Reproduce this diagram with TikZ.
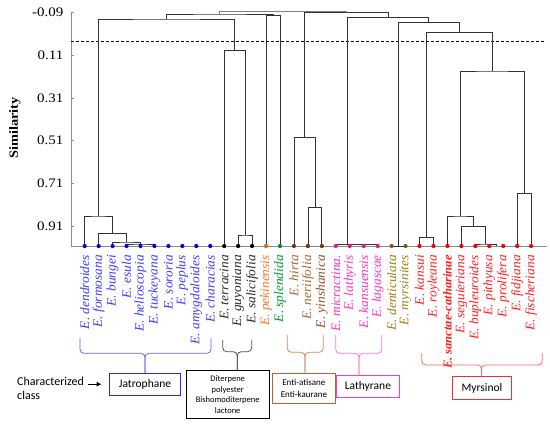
\documentclass[tikz,border=0pt]{standalone}
\usepackage{fontspec}
\setmainfont{Liberation Serif}
\newfontfamily\boxfont{Carlito}
\newfontfamily\labfont{Liberation Serif}[FakeStretch=1.03]
\newfontfamily\tickfont{Liberation Serif}[FakeStretch=1.15]
\usetikzlibrary{arrows.meta}
\definecolor{dBlue}{RGB}{0,0,230}
\definecolor{tBlue}{RGB}{60,60,255}
\definecolor{dBlack}{RGB}{0,0,0}
\definecolor{tBlack}{RGB}{40,40,40}
\definecolor{dOrange}{RGB}{230,100,20}
\definecolor{tOrange}{RGB}{255,120,30}
\definecolor{dGreen}{RGB}{0,140,40}
\definecolor{tGreen}{RGB}{0,160,50}
\definecolor{dBrown}{RGB}{110,50,20}
\definecolor{tBrown}{RGB}{175,100,50}
\definecolor{tBrownD}{RGB}{140,80,40}
\definecolor{dPink}{RGB}{230,20,150}
\definecolor{tPink}{RGB}{255,50,200}
\definecolor{dOlive}{RGB}{120,90,20}
\definecolor{tOlive}{RGB}{160,125,20}
\definecolor{dRed}{RGB}{240,0,0}
\definecolor{tRed}{RGB}{255,30,30}
\definecolor{bBlue}{RGB}{100,100,255}
\definecolor{bBlack}{RGB}{80,80,80}
\definecolor{bBrown}{RGB}{200,140,100}
\definecolor{bPink}{RGB}{255,120,210}
\definecolor{bRed}{RGB}{255,100,100}
\definecolor{xBlue}{RGB}{40,40,255}
\definecolor{xBrown}{RGB}{180,100,50}
\definecolor{xPink}{RGB}{255,60,200}
\definecolor{xRed}{RGB}{235,50,50}
\begin{document}
\begin{tikzpicture}[x=1pt,y=-1pt,
  link/.style={draw=black!80,line width=0.75pt},
  axisline/.style={draw=black!45,line width=0.6pt},
  leafdot/.style={circle,inner sep=0pt,minimum size=4.2pt,draw=none},
  leaflab/.style={rotate=90,anchor=east,inner sep=0pt,font=\labfont\fontsize{13}{15}\selectfont\itshape},
  ticklab/.style={anchor=east,inner sep=0pt,font=\tickfont\fontsize{13}{15}\selectfont},
  brc/.style={line width=0.8pt,rounded corners=4pt},
  classbox/.style={draw,line width=1pt,inner sep=0pt,align=center,font=\boxfont\fontsize{11.5}{14}\selectfont},
  smallbox/.style={classbox,font=\boxfont\fontsize{8.5}{10.5}\selectfont},
  lBlue/.style={text=tBlue},
  lBlack/.style={text=tBlack},
  lOrange/.style={text=tOrange},
  lGreen/.style={text=tGreen},
  lBrown/.style={text=tBrown},
  lBrownD/.style={text=tBrownD},
  lPink/.style={text=tPink},
  lOlive/.style={text=tOlive},
  lRed/.style={text=tRed},
  lRedB/.style={text=tRed,font=\labfont\fontsize{12.2}{15}\selectfont\bfseries\itshape}
]
\useasboundingbox (0,0) rectangle (550,424);

% axes
\draw[axisline] (71,12) -- (71,246) -- (547,246);
\foreach \v/\yy in {-0.09/12.2,0.11/55.0,0.31/97.8,0.51/140.6,0.71/183.4,0.91/226.2}{
  \draw[axisline] (71,\yy) -- (74,\yy);
  \node[ticklab] at (63.5,\yy) {\v};
}
\node[rotate=90,font=\tickfont\fontsize{12.5}{15}\selectfont\bfseries] (simlab) at (15,128) {Similarity};
\draw[dashed,dash pattern=on 3pt off 2pt,line width=0.8pt] (71,41.5) -- (546,41.5);

% leaf coordinates
\foreach \i in {0,...,32}{
  \pgfmathsetmacro\xx{84.7+13.95*\i}
  \coordinate (l\i) at (\xx,246);
}

% internal nodes
\coordinate (A) at (98.65,216);
\coordinate (B) at (112.6,233.7);
\coordinate (C) at (126.55,242);
\coordinate (D) at (140.5,244);
\coordinate (K) at (234.65,50.7);
\coordinate (K2) at (245.1,235);
\coordinate (N3) at (166.65,19);
\coordinate (N4) at (273.0,15.3);
\coordinate (N1) at (219.8,14);
\coordinate (Br) at (304.4,137.7);
\coordinate (Br2) at (314.9,207.3);
\coordinate (P) at (347.5,244.6);
\coordinate (O) at (398.6,246);
\coordinate (N5) at (388.3,17.3);
\coordinate (N6) at (428.8,22.7);
\coordinate (N7) at (459.1,32.3);
\coordinate (KR) at (426.5,237.7);
\coordinate (N8) at (492,71);
\coordinate (N9) at (460.2,216);
\coordinate (N10) at (524.1,193.3);
\coordinate (N11) at (473.3,226.7);
\coordinate (N12) at (485.75,244);
\coordinate (N13) at (496.2,246);
\coordinate (N2) at (346.35,12.7);
\coordinate (R) at (283.1,11.7);

% links
\draw[link] (l0) |- (A) -| (B);
\draw[link] (l1) |- (B) -| (C);
\draw[link] (l2) |- (C) -| (D);
\draw[link] (l3) |- (D) -| (l5);
\draw[link] (l10) |- (K) -| (K2);
\draw[link] (l11) |- (K2) -| (l12);
\draw[link] (A) |- (N3) -| (K);
\draw[link] (l13) |- (N4) -| (l14);
\draw[link] (N3) |- (N1) -| (N4);
\draw[link] (l16) |- (Br2) -| (l17);
\draw[link] (l15) |- (Br) -| (Br2);
\draw[link] (l18) |- (P) -| (l21);
\draw[link] (P) |- (N5) -| (N6);
\draw[link] (l22) -- (l23);
\draw[link] (O) |- (N6) -| (N7);
\draw[link] (l24) |- (KR) -| (l25);
\draw[link] (KR) |- (N7) -| (N8);
\draw[link] (N9) |- (N8) -| (N10);
\draw[link] (l31) |- (N10) -| (l32);
\draw[link] (l26) |- (N9) -| (N11);
\draw[link] (l27) |- (N11) -| (N12);
\draw[link] (l28) |- (N12) -| (N13);
\draw[link] (Br) |- (N2) -| (N5);
\draw[link,draw=black!50] (N1) |- (R) -| (N2);

% dots and labels
\foreach \i/\dc/\tc/\nm in {
  0/dBlue/lBlue/dendroides, 1/dBlue/lBlue/formosana, 2/dBlue/lBlue/bungei,
  3/dBlue/lBlue/esula, 4/dBlue/lBlue/helioscopia, 5/dBlue/lBlue/tuckeyana,
  6/dBlue/lBlue/sororia, 7/dBlue/lBlue/peplus, 8/dBlue/lBlue/amygdaloides,
  9/dBlue/lBlue/characias,
  10/dBlack/lBlack/terracina, 11/dBlack/lBlack/guyoniana, 12/dBlack/lBlack/salicifolia,
  13/dOrange/lOrange/pekinensis, 14/dGreen/lGreen/splendida,
  15/dBrown/lBrown/hirta, 16/dBrown/lBrown/neriifolia, 17/dBrown/lBrownD/yinshanica,
  18/dPink/lPink/micractina., 19/dPink/lPink/lathyris, 20/dPink/lPink/kansuensis,
  21/dPink/lPink/lagascae,
  22/dOlive/lOlive/denticulata, 23/dOlive/lOlive/myrsinites,
  24/dRed/lRed/kansui, 25/dRed/lRed/royleana, 26/dRed/lRedB/sanctae-catharinae,
  27/dRed/lRed/seguieriana, 28/dRed/lRed/bupleuroides, 29/dRed/lRed/pithyusa,
  30/dRed/lRed/prolifera, 31/dRed/lRed/fidjiana, 32/dRed/lRed/fischeriana}{
  \node[leafdot,fill=\dc] (d\i) at (l\i) {};
  \node[leaflab,\tc] (t\i) at ([yshift=-9pt]l\i) {E. \nm};
}

% class boxes
\node[classbox,draw=xBlue,minimum width=70.7pt,minimum height=21.7pt] (jat) at (145,384.2) {Jatrophane};
\node[smallbox,draw=black,minimum width=83.3pt,minimum height=47.6pt] (dit) at (227.7,394.5) {Diterpene\\polyester\\Bishomoditerpene\\lactone};
\node[smallbox,draw=xBrown,font=\boxfont\fontsize{9}{11.5}\selectfont,minimum width=62.3pt,minimum height=30.3pt] (ent) at (303.9,388.2) {Enti-atisane\\Enti-kaurane};
\node[classbox,draw=xPink,minimum width=62.3pt,minimum height=22.3pt] (lat) at (367.9,386.2) {Lathyrane};
\node[classbox,draw=xRed,minimum width=58.3pt,minimum height=22.6pt] (myr) at (481.9,388) {Myrsinol};

% braces
\coordinate (bjat) at (145,353.3);
\draw[brc,bBlue] (80,338) -- (80,353.3) -- (bjat) -- (bjat |- jat.north);
\draw[brc,bBlue] (211,338) -- (211,353.3) -- (bjat) -- (bjat |- jat.north);
\coordinate (bdit) at (237.3,351.7);
\draw[brc,bBlack] (222.7,340) -- (222.7,351.7) -- (bdit) -- (bdit |- dit.north);
\draw[brc,bBlack] (251.7,340) -- (251.7,351.7) -- (bdit) -- (bdit |- dit.north);
\coordinate (bent) at (305,352.3);
\draw[brc,bBrown] (287.3,335) -- (287.3,352.3) -- (bent) -- (bent |- ent.north);
\draw[brc,bBrown] (323.3,335) -- (323.3,352.3) -- (bent) -- (bent |- ent.north);
\coordinate (blat) at (359,353.3);
\draw[brc,bPink] (335.7,335) -- (335.7,353.3) -- (blat) -- (blat |- lat.north);
\draw[brc,bPink] (381.7,335) -- (381.7,353.3) -- (blat) -- (blat |- lat.north);
\coordinate (bmyr) at (481.5,365);
\draw[brc,bRed] (421.7,353) -- (421.7,365) -- (bmyr) -- (bmyr |- myr.north);
\draw[brc,bRed] (542.3,353) -- (542.3,365) -- (bmyr) -- (bmyr |- myr.north);

% characterized class
\node[anchor=north west,align=left,inner sep=0pt,font=\boxfont\fontsize{12}{14.5}\selectfont] (cc) at (17,376.5) {Characterized\\class};
\coordinate (ccarrow) at (88,384.2);
\draw[-{Latex[length=5pt,width=5pt]},line width=0.8pt,shorten >=7.5pt] (ccarrow) -- (jat);
\end{tikzpicture}
\end{document}
